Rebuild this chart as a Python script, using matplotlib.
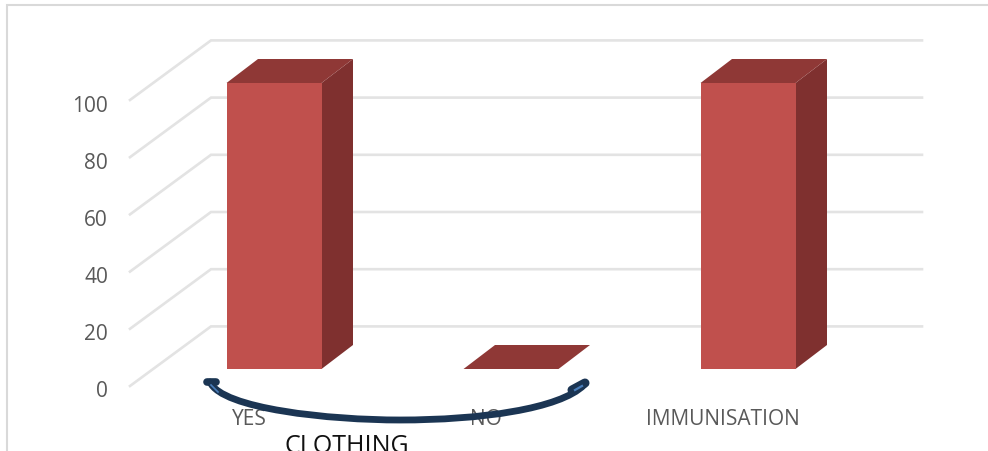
import matplotlib
matplotlib.use("Agg")
import matplotlib.pyplot as plt
from matplotlib.patches import Polygon, PathPatch
from matplotlib.path import Path

categories = ["YES", "NO", "IMMUNISATION"]
values = [100, 0, 100]
y_ticks = [0, 20, 40, 60, 80, 100]
x_title = "CLOTHING"

W, H = 988, 452
PX_PER_UNIT = 2.86
PX_PER_CAT = 237
ORIGIN_X, ORIGIN_Y = 274, 384
FONT = ["Open Sans", "DejaVu Sans"]
GREY = "#595959"

fig = plt.figure(figsize=(W / 100, H / 100), dpi=100)
ax = fig.add_axes([0, 0, 1, 1])
xmin, xmax = -ORIGIN_X / PX_PER_CAT, (W - ORIGIN_X) / PX_PER_CAT
ymin, ymax = (ORIGIN_Y - H) / PX_PER_UNIT, ORIGIN_Y / PX_PER_UNIT
ax.set_xlim(xmin, xmax)
ax.set_ylim(ymin, ymax)
ax.axis("off")

dx = 1 / PX_PER_CAT      # one pixel along x, in category units
dy = 1 / PX_PER_UNIT     # one pixel along y, in value units

# Chart frame: only the left and top edges fall inside the canvas
ax.plot([xmin + 6.5 * dx, xmin + 6.5 * dx, xmax], [ymin, ymax - 5.5 * dy, ymax - 5.5 * dy],
        color="#d9d9d9", lw=1.5, solid_joinstyle="miter", zorder=1)

# Side-wall diagonal, then the gridline along the back wall
wall_x0, wall_x1 = -63 * dx, 648 * dx
front_x = -144 * dx
for v in y_ticks:
    back = v + 56.6 * dy
    front = v - 3 * dy
    ax.plot([front_x, wall_x0, wall_x1], [front, back, back],
            color="#e3e3e3", lw=1.9, solid_joinstyle="miter", zorder=2)
    ax.text(front_x - 22 * dx, v - 8 * dy, str(v), ha="right", va="center",
            fontsize=15, color=GREY, family=FONT)

# 3-D columns: front face, top and side
half = 47.5 * dx
depth_x, depth_y = 31.5 * dx, 24 * dy
base = 14 * dy
for i, v in enumerate(values):
    x0, x1 = i - half, i + half
    y0, y1 = base, base + v
    if v > 0:
        ax.add_patch(Polygon([(x1, y0), (x1 + depth_x, y0 + depth_y),
                              (x1 + depth_x, y1 + depth_y), (x1, y1)],
                             facecolor="#7f302f", edgecolor="none", zorder=3))
        ax.add_patch(Polygon([(x0, y0), (x1, y0), (x1, y1), (x0, y1)],
                             facecolor="#c0504d", edgecolor="none", zorder=4))
    ax.add_patch(Polygon([(x0, y1), (x1, y1), (x1 + depth_x, y1 + depth_y),
                          (x0 + depth_x, y1 + depth_y)],
                         facecolor="#8f3836", edgecolor="none", zorder=4))

# Category labels and axis title
for i, c in enumerate(categories):
    ax.text(i - 25 * dx, -12.3, c, ha="center", va="center", fontsize=15,
            color=GREY, family=FONT)
ax.text(73 * dx, -21.8, x_title, ha="center", va="center", fontsize=18,
        color="#111111", family=FONT)


# Hand-drawn brace under the first two categories
def px(x, y):
    return ((x - ORIGIN_X) / PX_PER_CAT, (ORIGIN_Y - y) / PX_PER_UNIT)


NAVY = "#1b3553"
curve = Path([px(210, 383), px(222, 410), px(330, 421), px(400, 421),
              px(480, 421), px(560, 410), px(584, 386)],
             [Path.MOVETO, Path.CURVE4, Path.CURVE4, Path.CURVE4,
              Path.CURVE4, Path.CURVE4, Path.CURVE4])
ax.add_patch(PathPatch(curve, fill=False, edgecolor=NAVY, lw=4.9,
                       capstyle="round", zorder=6))
ax.plot(*zip(px(207, 383), px(216, 383)), color=NAVY, lw=5.5, solid_capstyle="round", zorder=6)
ax.plot(*zip(px(572, 391), px(585, 384)), color=NAVY, lw=6.5, solid_capstyle="round", zorder=6)
ax.plot(*zip(px(211, 386), px(218, 393)), color="#4a7ebb", lw=1.2, zorder=7)
ax.plot(*zip(px(575, 391), px(582, 387)), color="#4a7ebb", lw=1.6, zorder=7)

fig.savefig("out.png", dpi=100)
